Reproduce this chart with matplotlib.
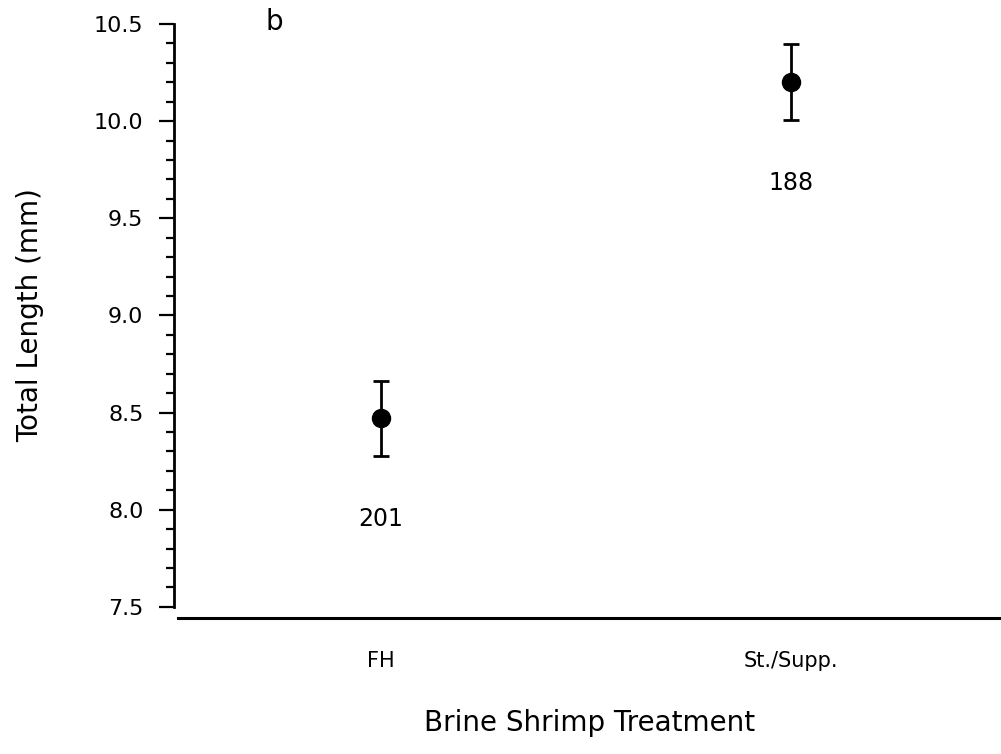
import matplotlib
matplotlib.use("Agg")
import matplotlib.pyplot as plt
from matplotlib.ticker import MultipleLocator

categories = ["FH", "St./Supp."]
means = [8.47, 10.20]
errors = [0.195, 0.195]
n_labels = ["201", "188"]
n_label_y = [7.95, 9.68]
yticks = [7.5, 8.0, 8.5, 9.0, 9.5, 10.0, 10.5]

plt.rcParams['font.family'] = ['DejaVu Sans']

W, H = 1001, 754
fig = plt.figure(figsize=(W / 100, H / 100), dpi=100)
ax = fig.add_axes([174 / W, (H - 618) / H, (W - 174) / W, (618 - 24) / H])

x = list(range(len(categories)))
ax.errorbar(x, means, yerr=errors, fmt='o', color='black', markersize=13,
            capsize=6, capthick=2.0, elinewidth=2.0)
for xi, lab, yy in zip(x, n_labels, n_label_y):
    ax.text(xi, yy, lab, ha='center', va='center', fontsize=17)

ax.set_xlim(-0.505, 1.512)
ax.set_ylim(7.443, 10.5)
ax.set_xticks(x)
ax.set_xticklabels(categories, fontsize=15)
ax.set_yticks(yticks)
ax.set_yticklabels([f"{v:.1f}" for v in yticks], fontsize=16)
ax.yaxis.set_minor_locator(MultipleLocator(0.1))

ax.tick_params(axis='x', length=0, pad=24)
ax.tick_params(axis='y', which='major', length=11, width=1.6, pad=11)
ax.tick_params(axis='y', which='minor', length=6, width=1.6)

ax.spines['top'].set_visible(False)
ax.spines['right'].set_visible(False)
ax.spines['left'].set_bounds(7.5, 10.5)
ax.spines['left'].set_linewidth(2.0)
ax.spines['bottom'].set_bounds(-0.495, 1.512)
ax.spines['bottom'].set_linewidth(2.2)

ax.set_ylabel("Total Length (mm)", fontsize=20, va='center')
ax.yaxis.set_label_coords(-0.174, 0.51)
ax.set_xlabel("Brine Shrimp Treatment", fontsize=20, va='center')
ax.xaxis.set_label_coords(0.5 + (590 - 587.5) / 827, -0.177)

ax.text(-0.26, 10.51, "b", ha='center', va='center', fontsize=20)

fig.savefig("out.png", dpi=100)
